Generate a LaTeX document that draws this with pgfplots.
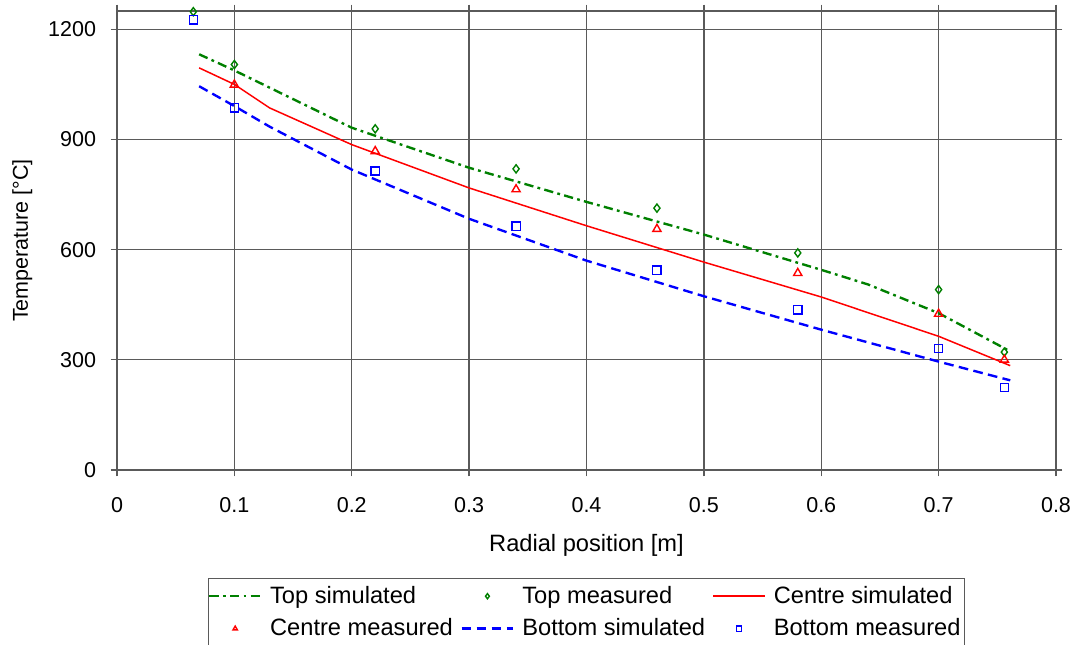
\documentclass[border=0pt]{standalone}
\usepackage{fontspec}
\setmainfont{Liberation Sans}
\usepackage{pgfplots}
\pgfplotsset{compat=1.18}
\definecolor{topgreen}{RGB}{0,128,0}
\definecolor{gridgray}{RGB}{90,90,90}
\pgfplotsset{
    wideleg/.style={legend image code/.code={\draw[mark repeat=2,mark phase=2,##1] plot coordinates {(0pt,0pt) (12pt,0pt) (24pt,0pt)};}},
}

\begin{document}
\begin{tikzpicture}
\begin{axis}[
    scale only axis,
    width=436.6pt,
    height=213.4pt,
    xmin=0, xmax=0.8,
    ymin=0, ymax=1250,
    xtick={0,0.1,...,0.8},
    ytick={0,300,600,900,1200},
    /pgf/number format/assume math mode=true,
    /pgf/number format/1000 sep={},
    grid=major,
    grid style={gridgray, line width=0.6pt},
    axis line style={gridgray, line width=0.6pt},
    tick style={gridgray, line width=0.6pt},
    tick align=outside,
    major tick length=3pt,
    xticklabel style={yshift=-6.2pt},
    yticklabel style={xshift=-3.2pt},
    xlabel={Radial position [m]},
    ylabel={Temperature [°C]},
    every axis x label/.style={at={([yshift=-35.3pt]axis description cs:0.5,0)}, anchor=center, font=\fontsize{11}{13}\selectfont},
    every axis y label/.style={at={([xshift=-44pt]axis description cs:0,0.5)}, anchor=center, rotate=90},
    legend columns=3,
    legend cell align=left,
    legend style={
        at={([yshift=-50.2pt]axis description cs:0.5,0)}, anchor=north,
        draw=gridgray, line width=0.5pt,
        font=\fontsize{11}{13}\selectfont,
        inner xsep=0pt, inner ysep=1.5pt,
        cells={inner xsep=1pt, inner ysep=2pt, text height=8pt, text depth=2.5pt},
        /tikz/every odd column/.append style={column sep=1.7pt},
        /tikz/every even column/.append style={column sep=1.5pt},
        row sep=1.6pt,
    },
    wideleg,
    legend image post style={mark size=1.2pt},
]
% Top simulated
\addplot[topgreen, line width=1.1pt, dash pattern=on 4.3pt off 2pt on 1.3pt off 2pt] coordinates {
    (0.07,1132) (0.1,1088) (0.2,932) (0.3,823) (0.4,730) (0.5,641)
    (0.6,545) (0.64,505) (0.7,427) (0.761,323)
};
\addlegendentry{Top simulated}
% Top measured
\addplot[topgreen, only marks, mark=diamond, mark size=1.9pt, line width=0.65pt, wideleg] coordinates {
    (0.065,1248) (0.1,1104) (0.22,929) (0.34,820) (0.46,713) (0.58,591) (0.70,491) (0.756,321)
};
\addlegendentry{Top measured}
% Centre simulated
\addplot[red, line width=0.7pt] coordinates {
    (0.07,1095) (0.1,1050) (0.13,986) (0.2,886) (0.3,768) (0.4,665) (0.5,566)
    (0.6,471) (0.7,364) (0.761,284)
};
\addlegendentry{Centre simulated}
% Centre measured
\addplot[red, only marks, mark=triangle, mark size=2.2pt, line width=0.65pt, wideleg] coordinates {
    (0.1,1049) (0.22,868) (0.34,764) (0.46,656) (0.58,536) (0.70,425) (0.756,300)
};
\addlegendentry{Centre measured}
% Bottom simulated
\addplot[blue, line width=1.1pt, dash pattern=on 4.5pt off 2.5pt] coordinates {
    (0.07,1045) (0.1,991) (0.13,935) (0.2,818) (0.3,684) (0.4,570) (0.5,473)
    (0.6,382) (0.7,295) (0.761,244)
};
\addlegendentry{Bottom simulated}
% Bottom measured
\addplot[blue, only marks, mark=square, mark size=1.9pt, line width=0.6pt, wideleg] coordinates {
    (0.065,1226) (0.1,986) (0.22,814) (0.34,664) (0.46,544) (0.58,436) (0.70,331) (0.756,225)
};
\addlegendentry{Bottom measured}
\end{axis}
\pgfresetboundingbox
\path ([xshift=-54.4pt,yshift=-81.4pt]current axis.south west) rectangle ([xshift=9.3pt,yshift=5.1pt]current axis.north east);
\end{tikzpicture}
\end{document}
